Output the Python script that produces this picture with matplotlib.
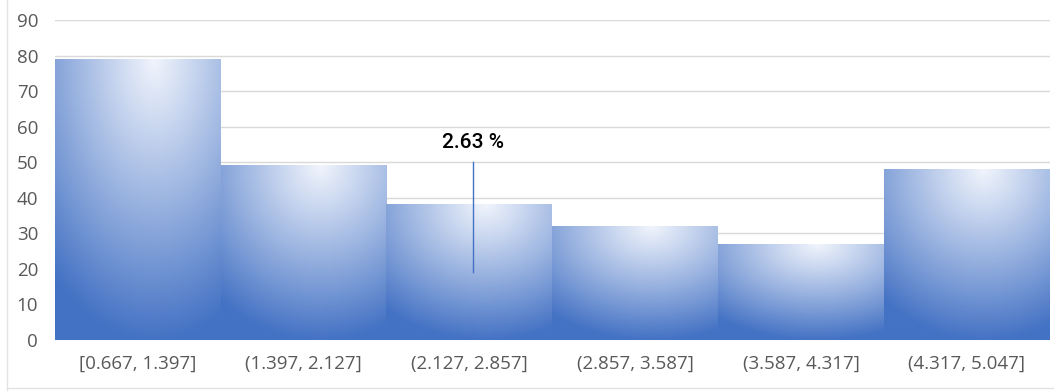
import numpy as np
import matplotlib
matplotlib.use('Agg')
import matplotlib.pyplot as plt
from matplotlib.lines import Line2D

# bin labels and counts of the histogram
bins = ['[0.667, 1.397]', '(1.397, 2.127]', '(2.127, 2.857]',
        '(2.857, 3.587]', '(3.587, 4.317]', '(4.317, 5.047]']
counts = [79, 49, 38, 32, 27, 48]

# marker line with its percentage label
marker_x = 2.02
marker_low, marker_high = 19, 50
marker_text = '2.63 %'
marker_text_y = 55.5

plt.rcParams['font.family'] = ['Open Sans', 'DejaVu Sans']

light = np.array([240, 244, 252]) / 255.0
dark = np.array([68, 114, 196]) / 255.0

# Radial shading inside a single bar, brightest near the top middle
def bar_gradient(nx=120, ny=200):
    u = np.linspace(0, 1, nx)[None, :]
    v = np.linspace(0, 1, ny)[:, None]
    t = np.sqrt(((u - 0.6) * 1.05) ** 2 + v ** 2)
    t = np.clip(t, 0, 1) ** 1.05
    img = light[None, None, :] + (dark - light)[None, None, :] * t[:, :, None]
    return img

fig = plt.figure(figsize=(10.54, 3.92), dpi=100)
ax = fig.add_axes([0.052, 0.133, 0.944, 0.816])

grad = bar_gradient()
for i, c in enumerate(counts):
    # row 0 of the image (the light end) sits at the bar top
    ax.imshow(grad, extent=(i - 0.5, i + 0.5, 0, c), origin='upper',
              aspect='auto', interpolation='bilinear', zorder=2)

ax.set_xlim(-0.5, len(bins) - 0.5)
ax.set_ylim(0, 90)
ax.set_yticks(np.arange(0, 91, 10))
ax.set_xticks(range(len(bins)))
ax.set_xticklabels(bins)

ax.grid(axis='y', color='#D9D9D9', linewidth=1.0, zorder=0)
ax.set_axisbelow(True)
for s in ax.spines.values():
    s.set_visible(False)
ax.tick_params(axis='both', length=0, labelsize=13.5, colors='#595959')
ax.tick_params(axis='x', pad=11)
ax.tick_params(axis='y', pad=12)

ax.plot([marker_x, marker_x], [marker_low, marker_high], color='#4472C4',
        linewidth=1.0, zorder=3)
ax.text(marker_x, marker_text_y, marker_text, ha='center', va='center',
        fontsize=15, fontweight='medium', color='black', zorder=4,
        family=['Roboto', 'DejaVu Sans'])

# faint frame along the left and bottom edges
fig.add_artist(Line2D([7 / 1054, 7 / 1054], [2 / 392, 1.0],
                      transform=fig.transFigure, color='#E3E3E3', linewidth=1))
fig.add_artist(Line2D([7 / 1054, 1.0], [4 / 392, 4 / 392],
                      transform=fig.transFigure, color='#E3E3E3', linewidth=1))

fig.savefig('out.png', dpi=100)
